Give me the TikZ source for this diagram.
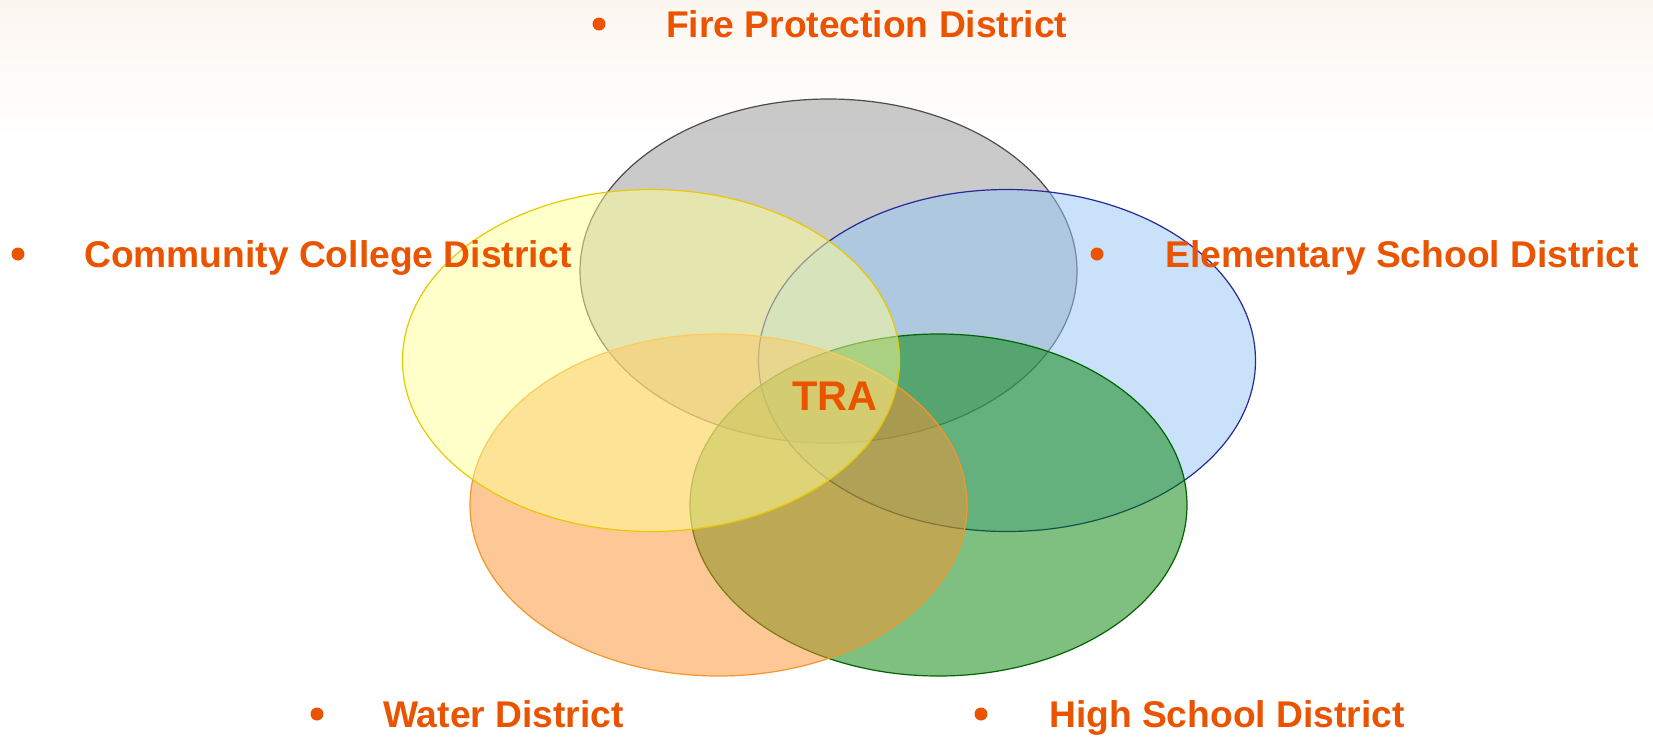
\documentclass[tikz,border=0pt]{standalone}
\usepackage{fontspec}
\setmainfont{Liberation Sans}
\definecolor{distorange}{RGB}{234,84,0}
\definecolor{firefill}{RGB}{150,150,150}
\definecolor{collegefill}{RGB}{255,255,150}
\definecolor{elemfill}{RGB}{148,198,246}
\definecolor{highfill}{RGB}{0,128,0}
\definecolor{waterfill}{RGB}{251,146,46}
\definecolor{collegeline}{RGB}{232,200,0}
\definecolor{elemline}{RGB}{40,40,150}
\definecolor{highline}{RGB}{0,100,0}
\definecolor{waterline}{RGB}{245,150,40}
\definecolor{backpeach}{RGB}{252,246,240}

\begin{document}
\begin{tikzpicture}[x=1pt, y=-1pt,
  distlbl/.style={inner sep=0pt, text=distorange, font=\bfseries\fontsize{37.2}{45}\selectfont},
  bulletdot/.style={circle, fill=distorange, inner sep=0pt, minimum size=13pt},
  district/.style={fill opacity=0.5, line width=1.2pt}]
\useasboundingbox (0,0) rectangle (1653,737);
\fill[top color=backpeach, bottom color=white] (0,0) rectangle (1653,140);

% centres of the five districts
\coordinate (fireC) at (828.5,271);
\coordinate (collegeC) at (651,360.5);
\coordinate (elemC) at (1007,360.5);
\coordinate (waterC) at (718.5,505);
\coordinate (highC) at (938.5,505);

\filldraw[district, fill=firefill, draw=black!70] (fireC) ellipse [x radius=248.5pt, y radius=172pt];
\filldraw[district, fill=elemfill, draw=elemline] (elemC) ellipse [x radius=248.5pt, y radius=171pt];
\filldraw[district, fill=highfill, draw=highline] (highC) ellipse [x radius=248.5pt, y radius=171pt];
\filldraw[district, fill=waterfill, draw=waterline] (waterC) ellipse [x radius=248.5pt, y radius=171pt];
\filldraw[district, fill=collegefill, draw=collegeline] (collegeC) ellipse [x radius=248.5pt, y radius=171pt];

\node[distlbl, font=\bfseries\fontsize{41.5}{48}\selectfont] (tra) at (835,396) {TRA};

\node[bulletdot] (firedot) at (599,24) {};
\node[distlbl, anchor=base west] (fire) at (666,37.7) {Fire Protection District};
\node[bulletdot] (collegedot) at (18,254) {};
\node[distlbl, anchor=base west] (college) at (84,267.5) {Community College District};
\node[bulletdot] (elemdot) at (1097,254) {};
\node[distlbl, anchor=base west] (elem) at (1165,267.5) {Elementary School District};
\node[bulletdot] (waterdot) at (317,714) {};
\node[distlbl, anchor=base west] (water) at (383,727.5) {Water District};
\node[bulletdot] (highdot) at (981,714) {};
\node[distlbl, anchor=base west] (high) at (1049,727.5) {High School District};
\end{tikzpicture}
\end{document}
